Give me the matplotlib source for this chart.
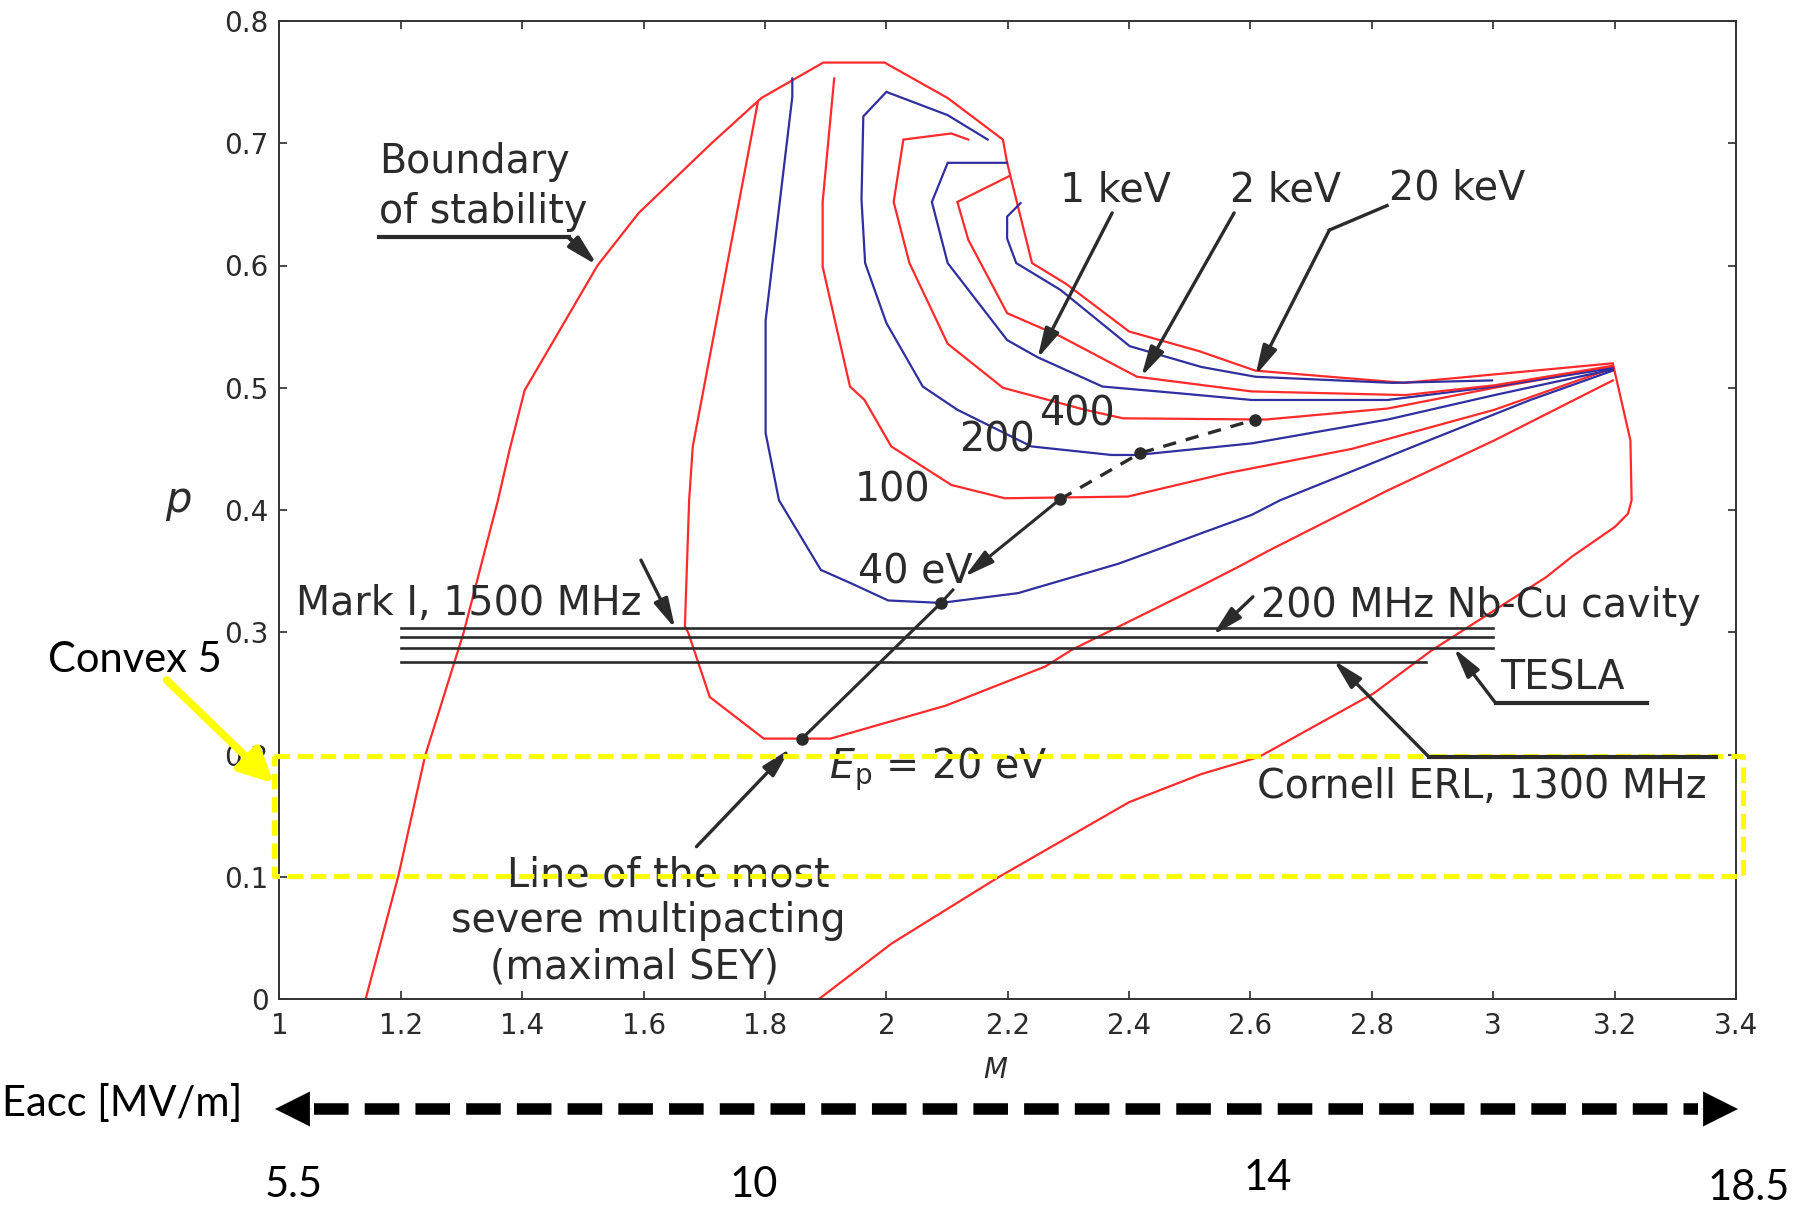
import matplotlib.pyplot as plt

W, H = 1799, 1211
RED = '#ff2a2a'
BLUE = '#2f2f9f'
INK = '#2b2b2b'

# Boundary of stability (outer red curve)
bound_M = [1.142, 1.196, 1.240, 1.303, 1.360, 1.379, 1.404, 1.417, 1.524, 1.592, 1.712, 1.794,
           1.896, 1.997, 2.101, 2.192, 2.199, 2.240, 2.296, 2.400, 2.515, 2.608, 2.853, 3.197,
           3.226, 3.228, 3.222, 3.200, 3.130, 3.087, 2.898, 2.803, 2.614, 2.519, 2.400, 2.186,
           2.009, 1.889]
bound_p = [0.000, 0.101, 0.199, 0.299, 0.408, 0.449, 0.498, 0.509, 0.600, 0.643, 0.700, 0.737,
           0.766, 0.766, 0.737, 0.703, 0.684, 0.602, 0.585, 0.546, 0.530, 0.514, 0.504, 0.520,
           0.457, 0.408, 0.397, 0.386, 0.362, 0.345, 0.285, 0.250, 0.198, 0.184, 0.161, 0.100,
           0.0455, 0.000]

# impact energy contours
ep20_M = [1.788, 1.681, 1.675, 1.668, 1.674, 1.709, 1.798, 1.908, 2.098, 2.262, 2.305, 2.519,
          2.582, 2.631, 2.826, 3.002, 3.197]
ep20_p = [0.733, 0.452, 0.408, 0.305, 0.299, 0.247, 0.213, 0.213, 0.240, 0.272, 0.2855, 0.338,
          0.354, 0.367, 0.416, 0.457, 0.506]

ep40_M = [1.845, 1.845, 1.801, 1.801, 1.823, 1.892, 1.942, 2.003, 2.090, 2.217, 2.382, 2.443,
          2.519, 2.602, 2.649, 2.884, 3.061, 3.197]
ep40_p = [0.753, 0.738, 0.555, 0.463, 0.408, 0.351, 0.340, 0.326, 0.324, 0.332, 0.356, 0.367,
          0.381, 0.396, 0.408, 0.455, 0.490, 0.514]

ep100_M = [1.914, 1.895, 1.895, 1.940, 1.964, 2.008, 2.107, 2.195, 2.398, 2.560, 2.767, 3.002, 3.197]
ep100_p = [0.753, 0.652, 0.599, 0.501, 0.490, 0.452, 0.4205, 0.4096, 0.411, 0.430, 0.450, 0.482, 0.516]

ep200_M = [2.167, 2.101, 2.000, 1.962, 1.959, 1.965, 2.000, 2.060, 2.117, 2.239, 2.371, 2.413,
           2.602, 2.826, 3.002, 3.197]
ep200_p = [0.703, 0.723, 0.742, 0.722, 0.654, 0.602, 0.553, 0.501, 0.482, 0.452, 0.445, 0.445,
           0.4545, 0.474, 0.494, 0.515]

ep400_M = [2.135, 2.107, 2.028, 2.012, 2.038, 2.101, 2.192, 2.327, 2.390, 2.625, 2.826, 3.002, 3.197]
ep400_p = [0.703, 0.708, 0.703, 0.652, 0.602, 0.536, 0.500, 0.482, 0.475, 0.474, 0.483, 0.500, 0.517]

ep1k_M = [2.199, 2.101, 2.075, 2.101, 2.199, 2.249, 2.356, 2.484, 2.602, 2.826, 3.002, 3.197]
ep1k_p = [0.684, 0.684, 0.652, 0.602, 0.539, 0.525, 0.501, 0.4954, 0.490, 0.490, 0.501, 0.516]

ep2k_M = [2.202, 2.117, 2.135, 2.199, 2.287, 2.413, 2.602, 2.855, 3.002, 3.197]
ep2k_p = [0.673, 0.652, 0.621, 0.561, 0.542, 0.509, 0.497, 0.494, 0.502, 0.518]

ep20k_M = [2.221, 2.199, 2.199, 2.214, 2.287, 2.401, 2.519, 2.608, 2.834, 2.998]
ep20k_p = [0.651, 0.640, 0.622, 0.602, 0.580, 0.534, 0.517, 0.509, 0.504, 0.506]

# line of the most severe multipacting
sev_M = [1.861, 2.090, 2.286, 2.4175, 2.608]
sev_p = [0.213, 0.324, 0.4087, 0.4464, 0.474]

# cavity operating lines (Mark I, 200 MHz Nb-Cu, TESLA, Cornell ERL)
cav_p = [0.3037, 0.2964, 0.2874, 0.2754]
cav_start = [1.2, 1.2, 1.2, 1.2]
cav_end = [3.0, 3.0, 3.0, 2.89]

# Convex 5 range
convex_p = [0.101, 0.199]
convex_M = [0.9906, 3.411]

xticks = [1, 1.2, 1.4, 1.6, 1.8, 2, 2.2, 2.4, 2.6, 2.8, 3, 3.2, 3.4]
xtick_labels = ['1', '1.2', '1.4', '1.6', '1.8', '2', '2.2', '2.4', '2.6', '2.8', '3', '3.2', '3.4']
yticks = [0, 0.1, 0.2, 0.3, 0.4, 0.5, 0.6, 0.7, 0.8]
ytick_labels = ['0', '0.1', '0.2', '0.3', '0.4', '0.5', '0.6', '0.7', '0.8']

eacc_labels = ['5.5', '10', '14', '18.5']
eacc_x = [294, 754, 1268, 1749]
eacc_base = [1197, 1197, 1190, 1200]


def fpos(x, y):
    return x / W, 1 - y / H


fig = plt.figure(figsize=(W / 100, H / 100), dpi=100)
ax = fig.add_axes([279.5 / W, 1 - 999 / H, (1736 - 279.5) / W, (999 - 21) / H])

for M, p, c in [(bound_M, bound_p, RED), (ep20_M, ep20_p, RED), (ep40_M, ep40_p, BLUE),
                (ep100_M, ep100_p, RED), (ep200_M, ep200_p, BLUE), (ep400_M, ep400_p, RED),
                (ep1k_M, ep1k_p, BLUE), (ep2k_M, ep2k_p, RED), (ep20k_M, ep20k_p, BLUE)]:
    ax.plot(M, p, color=c, lw=1.6, solid_joinstyle='miter')

for p0, m0, m1 in zip(cav_p, cav_start, cav_end):
    ax.plot([m0, m1], [p0, p0], color=INK, lw=1.9)

# severe multipacting line: solid part, arrow into "40 eV", dashed part
ax.plot([sev_M[0], sev_M[1], 2.1095], [sev_p[0], sev_p[1], 0.3346], color=INK, lw=2.2)
ax.plot(sev_M[2:], sev_p[2:], color=INK, lw=2.4, dashes=(4, 3))
ax.plot(sev_M, sev_p, 'o', color=INK, ms=8)


def arrow(tip, tail, lw=2.4, hl=18, hw=4.5, color=INK, xycoords='data'):
    ax.annotate('', xy=tip, xytext=tail, xycoords=xycoords, textcoords=xycoords,
                arrowprops=dict(arrowstyle=f'-|>,head_length={hl},head_width={hw}',
                                mutation_scale=1, color=color, lw=lw,
                                shrinkA=0, shrinkB=0),
                annotation_clip=False)


arrow((2.129, 0.3455), (sev_M[2], sev_p[2]), lw=2.2)

# yellow Convex 5 box
ax.plot([convex_M[0], convex_M[1], convex_M[1], convex_M[0], convex_M[0]],
        [convex_p[1], convex_p[1], convex_p[0], convex_p[0], convex_p[1]],
        color='#ffff00', lw=3.7, dashes=(3, 1.5), clip_on=False, zorder=5)

# labels and leaders
fs = 28.5
tkw = dict(fontsize=fs, color=INK, ha='left', va='baseline')
ax.text(1.1645, 0.6757, 'Boundary', **tkw)
ax.text(1.1645, 0.6348, 'of stability', **tkw)
ax.plot([1.1645, 1.4765], [0.623, 0.623], color=INK, lw=3, clip_on=False)
arrow((1.524, 0.600), (1.4765, 0.623), lw=3)

ax.text(2.2867, 0.652, '1 keV', **tkw)
arrow((2.249, 0.524), (2.372, 0.643))
ax.text(2.5665, 0.652, '2 keV', **tkw)
arrow((2.420, 0.509), (2.573, 0.643))
ax.text(2.828, 0.654, '20 keV', **tkw)
ax.plot([2.825, 2.730], [0.649, 0.629], color=INK, lw=2.4)
arrow((2.608, 0.510), (2.730, 0.629))

ax.text(2.2523, 0.4695, '400', **tkw)
ax.text(2.1205, 0.4477, '200', **tkw)
ax.text(1.947, 0.4068, '100', **tkw)
ax.text(1.953, 0.340, '40 eV', **tkw)
ax.text(1.905, 0.1805, r'$E_\mathrm{p}$ = 20 eV', **tkw)

ax.text(1.0276, 0.314, 'Mark I, 1500 MHz', **tkw)
arrow((1.652, 0.303), (1.5956, 0.359))
ax.text(2.617, 0.3122, '200 MHz Nb-Cu cavity', **tkw)
arrow((2.538, 0.2977), (2.604, 0.329))
ax.text(3.011, 0.2528, 'TESLA', **tkw)
ax.plot([3.004, 3.254], [0.242, 0.242], color=INK, lw=3, clip_on=False)
arrow((2.935, 0.287), (3.004, 0.242))
ax.text(2.611, 0.1647, 'Cornell ERL, 1300 MHz', **tkw)
ax.plot([2.894, 3.367], [0.198, 0.198], color=INK, lw=3, clip_on=False, zorder=6)
arrow((2.737, 0.277), (2.894, 0.198))

ckw = dict(fontsize=fs, color=INK, ha='center', va='baseline')
ax.text(1.641, 0.0919, 'Line of the most', **ckw)
ax.text(1.608, 0.0550, 'severe multipacting', **ckw)
ax.text(1.585, 0.0170, '(maximal SEY)', **ckw)
arrow((1.842, 0.205), (1.687, 0.1246))

# axes styling (MATLAB-like box)
ax.set_xlim(1, 3.4)
ax.set_ylim(0, 0.8)
ax.set_xticks(xticks)
ax.set_xticklabels(xtick_labels)
ax.set_yticks(yticks)
ax.set_yticklabels(ytick_labels)
ax.tick_params(direction='in', length=6, width=1.2, top=True, right=True,
               labelsize=20, labelcolor=INK, color=INK)
ax.tick_params(axis='x', pad=9)
ax.tick_params(axis='y', pad=8)
for s in ax.spines.values():
    s.set_color('#333333')
    s.set_linewidth(1.4)

fig.text(*fpos(178, 500), 'p', fontsize=30, style='italic', color=INK, ha='center', va='center')
fig.text(*fpos(995, 1070), 'M', fontsize=20, style='italic', color=INK, ha='center', va='center')

# overlay annotations outside the plot
ofont = dict(family=['Lato', 'DejaVu Sans'], fontsize=30, color='black')
fig.text(*fpos(48, 672), 'Convex 5', ha='left', va='baseline', **ofont)
arrow(fpos(273.6, 783.3), fpos(166.5, 680), lw=5.5, hl=20, hw=10, color='#ffff00',
      xycoords='figure fraction')

fig.text(*fpos(2, 1104), 'Eacc [MV/m]', ha='left', va='center', **ofont)
for lab, x, yb in zip(eacc_labels, eacc_x, eacc_base):
    fig.text(*fpos(x, yb), lab, ha='center', va='baseline', **ofont)

# double-headed dashed arrow for Eacc
ey = 1109
fig.add_artist(plt.Line2D([314 / W, 1698 / W], [1 - ey / H] * 2, color='black', lw=8.3,
                          dashes=(3.0, 1.4), transform=fig.transFigure))
arrow(fpos(275, ey), fpos(312, ey), lw=0.1, hl=25, hw=12.5, color='black',
      xycoords='figure fraction')
arrow(fpos(1738, ey), fpos(1701, ey), lw=0.1, hl=25, hw=12.5, color='black',
      xycoords='figure fraction')

fig.savefig('out.png', dpi=100, facecolor='white')
